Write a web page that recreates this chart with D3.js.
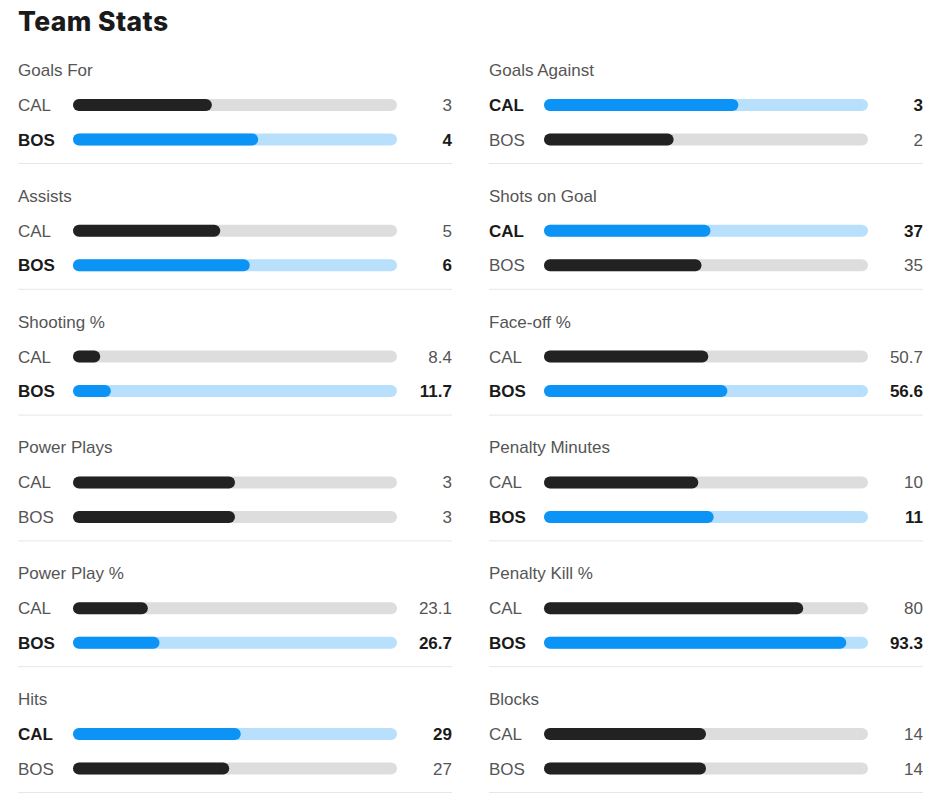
<!DOCTYPE html>
<html>
<head>
<meta charset="utf-8">
<script src="https://cdn.jsdelivr.net/npm/d3@7"></script>
<style>
html,body{margin:0;padding:0;background:#fff;}
svg{display:block;}
</style>
</head>
<body>
<script>
const title = "Team Stats";
const teams = ["CAL", "BOS"];
const statNames = ["Goals For", "Assists", "Shooting %", "Power Plays", "Power Play %", "Hits",
                   "Goals Against", "Shots on Goal", "Face-off %", "Penalty Minutes", "Penalty Kill %", "Blocks"];
const calValues = [3, 5, 8.4, 3, 23.1, 29, 3, 37, 50.7, 10, 80, 14];
const bosValues = [4, 6, 11.7, 3, 26.7, 27, 2, 35, 56.6, 11, 93.3, 14];
const isPercent = [false, false, true, false, true, false, false, false, true, false, true, false];

const W = 951, H = 800;
const svg = d3.select("body").append("svg").attr("width", W).attr("height", H);

const font = "'Liberation Sans', Arial, sans-serif";
const colors = {dark:"#222222", track:"#dddddd", blue:"#0b93f6", lightBlue:"#b8e0fc", label:"#555555", strong:"#1a1a1a", sep:"#e6e6e6"};

svg.append("text").attr("x", 18).attr("y", 31)
  .attr("font-family", "Inter, 'Open Sans', sans-serif").attr("font-weight", 800)
  .attr("font-size", 26.5).attr("letter-spacing", 0.4).attr("fill", "#1a1a1a").text(title);

const colX = d3.scaleOrdinal().domain([0, 1]).range([18, 489]);
const rowY = d3.scaleLinear().domain([0, 5]).range([70, 699]);
const barStart = 55, barWidth = 324, valueRight = 434, sepWidth = 434;
const barH = 12;
const fs = 17;

const stats = statNames.map((name, i) => ({
  name, col: Math.floor(i / 6), row: i % 6,
  values: [calValues[i], bosValues[i]], pct: isPercent[i]
}));

const g = svg.selectAll("g.stat").data(stats).enter().append("g")
  .attr("transform", d => `translate(${colX(d.col)},${rowY(d.row)})`);

g.append("text").attr("x", 0).attr("y", 6)
  .attr("font-family", font).attr("font-size", fs).attr("fill", colors.label).text(d => d.name);

g.append("line").attr("x1", 0).attr("x2", sepWidth).attr("y1", 93.5).attr("y2", 93.5)
  .attr("stroke", colors.sep).attr("stroke-width", 1);

g.each(function(d) {
  const grp = d3.select(this);
  const max = d3.max(d.values);
  const tie = d.values[0] === d.values[1];
  const x = d3.scaleLinear().domain([0, d.pct ? 100 : d3.sum(d.values)]).range([0, barWidth]);
  const rowOff = [35, 69.5];
  d.values.forEach((v, k) => {
    const lead = !tie && v === max;
    const cy = rowOff[k];
    grp.append("text").attr("x", 0).attr("y", cy + 6)
      .attr("font-family", font).attr("font-size", fs)
      .attr("font-weight", lead ? 700 : 400)
      .attr("fill", lead ? colors.strong : colors.label).text(teams[k]);
    grp.append("rect").attr("x", barStart).attr("y", cy - barH / 2)
      .attr("width", barWidth).attr("height", barH).attr("rx", barH / 2)
      .attr("fill", lead ? colors.lightBlue : colors.track);
    grp.append("rect").attr("x", barStart).attr("y", cy - barH / 2)
      .attr("width", x(v)).attr("height", barH).attr("rx", barH / 2)
      .attr("fill", lead ? colors.blue : colors.dark);
    grp.append("text").attr("x", valueRight).attr("y", cy + 6)
      .attr("text-anchor", "end")
      .attr("font-family", font).attr("font-size", fs)
      .attr("font-weight", lead ? 700 : 400)
      .attr("fill", lead ? colors.strong : colors.label).text(v);
  });
});
</script>
</body>
</html>
